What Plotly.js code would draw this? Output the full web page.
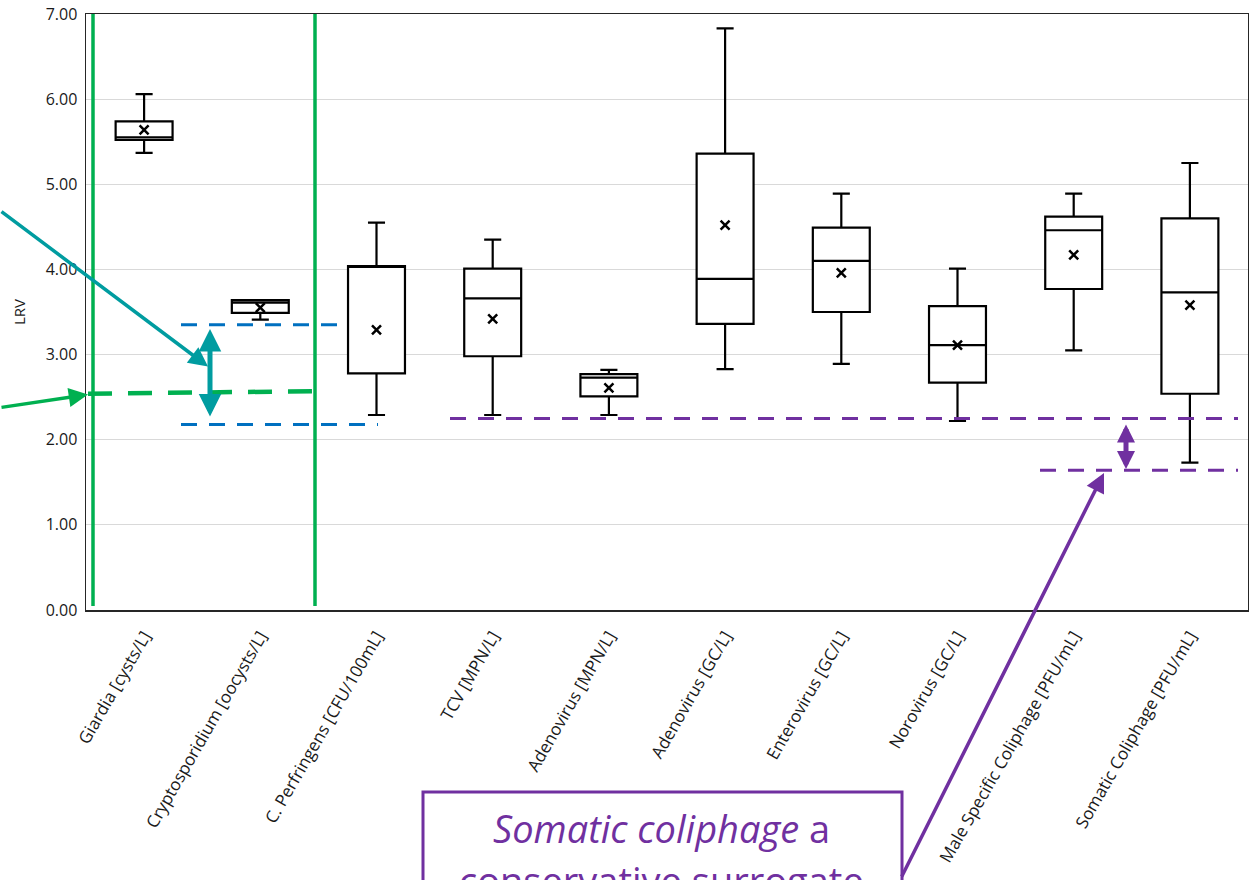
<!DOCTYPE html>
<html>
<head>
<meta charset="utf-8">
<script src="https://cdn.plot.ly/plotly-3.0.1.min.js"></script>
<style>html,body{margin:0;padding:0;background:#fff;}#chart{width:1249px;height:880px;}</style>
</head>
<body>
<div id="chart"></div>
<script>
// ---- data ----
const categories = [
  "Giardia [cysts/L]",
  "Cryptosporidium [oocysts/L]",
  "C. Perfringens [CFU/100mL]",
  "TCV [MPN/L]",
  "Adenovirus [MPN/L]",
  "Adenovirus [GC/L]",
  "Enterovirus [GC/L]",
  "Norovirus [GC/L]",
  "Male Specific Coliphage [PFU/mL]",
  "Somatic Coliphage [PFU/mL]"
];
const lowerWhisker = [5.37, 3.41, 2.29, 2.29, 2.29, 2.83, 2.89, 2.22, 3.05, 1.73];
const q1Values     = [5.52, 3.49, 2.78, 2.98, 2.51, 3.36, 3.50, 2.67, 3.77, 2.54];
const medianValues = [5.55, 3.61, 4.03, 3.66, 2.73, 3.89, 4.10, 3.11, 4.46, 3.73];
const q3Values     = [5.74, 3.64, 4.04, 4.01, 2.77, 5.36, 4.49, 3.57, 4.62, 4.60];
const upperWhisker = [6.06, 3.64, 4.55, 4.35, 2.82, 6.83, 4.89, 4.01, 4.89, 5.25];
const meanValues   = [5.64, 3.55, 3.29, 3.42, 2.61, 4.52, 3.96, 3.11, 4.17, 3.58];
const yTickValues  = [0, 1, 2, 3, 4, 5, 6, 7];

// reference levels drawn as dashed lines
const greenLevel = [2.54, 2.57];
const blueLevels = [3.35, 2.18];
const purpleLevels = [2.25, 1.64];

// ---- geometry helpers ----
const L = 86, R = 1, T = 14, B = 270, W = 1249, H = 880;
const PW = W - L - R, PH = H - T - B;
const px = p => (p - L) / PW;          // pixel x -> paper x
const py = p => (H - B - p) / PH;      // pixel y -> paper y

const GREEN = "#00B050", BLUE = "#0070C0", PURPLE = "#7030A0", TEAL = "#009CA0";

const boxTrace = {
  type: "box",
  x: categories,
  q1: q1Values, median: medianValues, q3: q3Values,
  lowerfence: lowerWhisker, upperfence: upperWhisker,
  boxpoints: false,
  width: 0.49,
  whiskerwidth: 0.3,
  fillcolor: "#ffffff",
  line: {color: "#000000", width: 2.2},
  hoverinfo: "skip",
  showlegend: false
};
const meanTrace = {
  type: "scatter", mode: "markers",
  x: categories, y: meanValues,
  marker: {symbol: "x-thin", size: 9, line: {color: "#000000", width: 2.5}},
  hoverinfo: "skip", showlegend: false
};

const shapes = [
  // green vertical lines
  {type: "line", xref: "paper", yref: "paper", x0: px(93), x1: px(93), y0: py(606), y1: 1, line: {color: GREEN, width: 3.5}},
  {type: "line", xref: "paper", yref: "paper", x0: px(315), x1: px(315), y0: py(606), y1: 1, line: {color: GREEN, width: 3.5}},
  // green dashed
  {type: "line", xref: "paper", yref: "y", x0: px(88), x1: px(316), y0: greenLevel[0], y1: greenLevel[1], line: {color: GREEN, width: 4.5, dash: "24px,16px"}},
  // blue dashed
  {type: "line", xref: "paper", yref: "y", x0: px(181), x1: px(340), y0: blueLevels[0], y1: blueLevels[0], line: {color: BLUE, width: 3, dash: "16px,12px"}},
  {type: "line", xref: "paper", yref: "y", x0: px(181), x1: px(378), y0: blueLevels[1], y1: blueLevels[1], line: {color: BLUE, width: 3, dash: "16px,12px"}},
  // purple dashed
  {type: "line", xref: "paper", yref: "y", x0: px(450), x1: px(1238), y0: purpleLevels[0], y1: purpleLevels[0], line: {color: PURPLE, width: 3, dash: "16px,12px"}},
  {type: "line", xref: "paper", yref: "y", x0: px(1040), x1: px(1238), y0: purpleLevels[1], y1: purpleLevels[1], line: {color: PURPLE, width: 3, dash: "16px,12px"}},
  // text box
  {type: "rect", xref: "paper", yref: "paper", x0: px(423), x1: px(902), y0: py(792), y1: py(960), line: {color: PURPLE, width: 3}, fillcolor: "#ffffff"}
];

const annotations = [
  // teal arrow from left
  {xref: "paper", yref: "y", x: px(208), y: 2.86, ax: -212, ay: -156, text: "", showarrow: true,
   arrowhead: 2, arrowsize: 1.1, arrowwidth: 3.5, arrowcolor: TEAL},
  // teal double arrow
  {xref: "paper", yref: "y", x: px(210), y: blueLevels[0] - 0.05, ax: 0, ay: 89, text: "", showarrow: true,
   arrowhead: 2, startarrowhead: 2, arrowside: "end+start", arrowsize: 0.9, startarrowsize: 0.9, arrowwidth: 5, arrowcolor: TEAL},
  // green arrow from left
  {xref: "paper", yref: "y", x: px(88), y: 2.53, ax: -90, ay: 13, text: "", showarrow: true,
   arrowhead: 2, arrowsize: 1.1, arrowwidth: 3.5, arrowcolor: GREEN},
  // purple double arrow
  {xref: "paper", yref: "y", x: px(1126), y: purpleLevels[0] - 0.07, ax: 0, ay: 46, text: "", showarrow: true,
   arrowhead: 2, startarrowhead: 2, arrowside: "end+start", arrowsize: 0.72, startarrowsize: 0.72, arrowwidth: 5, arrowcolor: PURPLE},
  // purple arrow from text box
  {xref: "paper", yref: "y", x: px(1104), y: 1.61, ax: -203, ay: 405, text: "", showarrow: true,
   arrowhead: 2, arrowsize: 1.1, arrowwidth: 3.5, arrowcolor: PURPLE},
  // text box content
  {xref: "paper", yref: "paper", x: px(661), y: py(828), text: "<i>Somatic coliphage</i> a", showarrow: false,
   xanchor: "center", yanchor: "middle", font: {family: "Open Sans", size: 38, color: PURPLE}},
  {xref: "paper", yref: "paper", x: px(661), y: py(880), text: "conservative surrogate", showarrow: false,
   xanchor: "center", yanchor: "middle", font: {family: "Open Sans", size: 38, color: PURPLE}}
];

const layout = {
  width: W, height: H,
  margin: {l: L, r: R, t: T, b: B, pad: 0},
  paper_bgcolor: "#ffffff", plot_bgcolor: "#ffffff",
  font: {family: "Open Sans", color: "#262626"},
  showlegend: false,
  xaxis: {
    type: "category", categoryarray: categories, range: [-0.5, 9.5],
    tickangle: -60, tickfont: {size: 17, color: "#1a1a1a"}, ticklabelstandoff: 8,
    showgrid: false, ticks: "", showline: true, linecolor: "#262626", linewidth: 1.5, mirror: true,
    zeroline: false
  },
  yaxis: {
    range: [0, 7], tickvals: yTickValues, tickformat: ".2f",
    tickfont: {size: 16, color: "#1a1a1a"}, ticks: "", ticklen: 0, ticklabelstandoff: 4,
    showgrid: true, gridcolor: "#D9D9D9", gridwidth: 1,
    showline: true, linecolor: "#262626", linewidth: 1.5, mirror: true, zeroline: false,
    title: {text: "LRV", font: {size: 15, color: "#1a1a1a"}, standoff: 16}
  },
  shapes: shapes,
  annotations: annotations
};

Plotly.newPlot("chart", [boxTrace, meanTrace], layout, {staticPlot: true, displayModeBar: false});
</script>
</body>
</html>
